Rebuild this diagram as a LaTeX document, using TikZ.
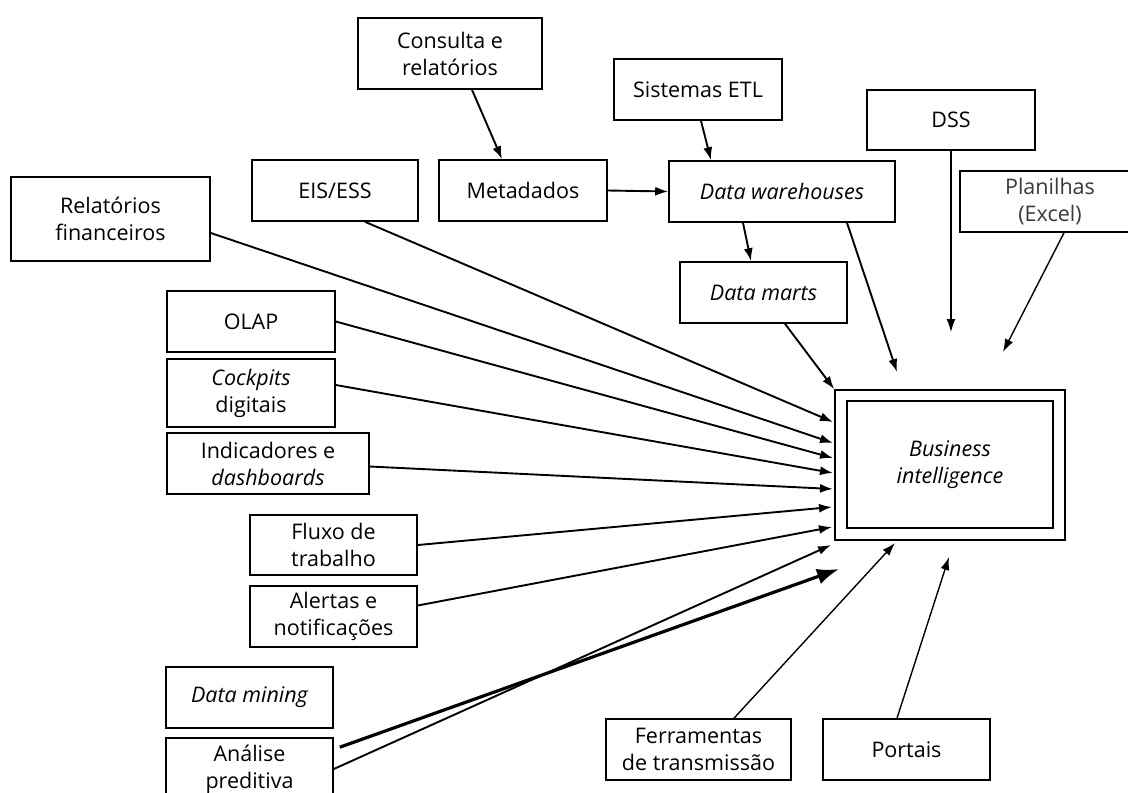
\documentclass[tikz,border=0pt]{standalone}
\usepackage{fontspec}
\setmainfont{Open Sans}
\usetikzlibrary{arrows.meta}
\definecolor{plangray}{rgb}{0.22,0.22,0.25}
\begin{document}
\begin{tikzpicture}[x=1pt,y=-1pt,
  box/.style={draw, line width=1.6pt, align=center, inner sep=0pt,
    font=\fontsize{21.5}{27}\selectfont},
  conn/.style={line width=1.9pt, -{Latex[length=13pt,width=9pt]}},
  thinconn/.style={line width=1.4pt, -{Latex[length=13pt,width=9pt]}},
  bigconn/.style={line width=3.2pt, -{Latex[length=22pt,width=16pt]}}]
\useasboundingbox (0,0) rectangle (1128,793);
% top boxes
\node[box, minimum width=184pt, minimum height=71pt] (cons) at (450,53.5) {Consulta e\\relatórios};
\node[box, minimum width=168pt, minimum height=61pt] (etl) at (698,89.5) {Sistemas ETL};
\node[box, minimum width=168pt, minimum height=60pt] (dss) at (951,120) {DSS};
\node[box, minimum width=180pt, minimum height=61pt, text=plangray] (plan) at (1050,201.5) {Planilhas\\(Excel)};
\node[box, minimum width=166pt, minimum height=61pt] (eis) at (335,190.5) {EIS/ESS};
\node[box, minimum width=168pt, minimum height=61pt] (meta) at (523,190.5) {Metadados};
\node[box, minimum width=226pt, minimum height=61pt] (dw) at (782,191.5) {\itshape Data warehouses};
\node[box, minimum width=199pt, minimum height=84pt] (relfin) at (110.5,219) {Relatórios\\financeiros};
\node[box, minimum width=167pt, minimum height=61pt] (dm) at (763.5,292.5) {\itshape Data marts};
% left column
\node[box, minimum width=168pt, minimum height=61pt] (olap) at (251,321.5) {OLAP};
\node[box, minimum width=168pt, minimum height=68pt] (cock) at (251,393) {\itshape Cockpits\\digitais};
\node[box, minimum width=202pt, minimum height=61pt] (ind) at (268,463.5) {Indicadores e\\\itshape dashboards};
\node[box, minimum width=167pt, minimum height=60pt] (flux) at (333.5,545) {Fluxo de\\trabalho};
\node[box, minimum width=167pt, minimum height=61pt] (alert) at (333.5,616.5) {Alertas e\\notificações};
\node[box, minimum width=167pt, minimum height=61pt] (dmin) at (249.5,697.5) {\itshape Data mining};
\node[box, minimum width=167pt, minimum height=62pt] (anal) at (249.5,769) {Análise\\preditiva};
% bottom
\node[box, minimum width=185pt, minimum height=61pt] (ferr) at (698.5,749.5) {Ferramentas\\de transmissão};
\node[box, minimum width=167pt, minimum height=61pt] (port) at (906.5,749.5) {Portais};
% business intelligence
\node[box, minimum width=230pt, minimum height=150pt] (bi) at (950,465) {};
\node[box, minimum width=206pt, minimum height=127pt] (biin) at (950,464.5) {\itshape Business\\\itshape intelligence};
% arrow end points
\coordinate (t1) at (833,422);
\coordinate (t2) at (833,443);
\coordinate (t3) at (833,458);
\coordinate (t4) at (833,473);
\coordinate (t5) at (833,489);
\coordinate (t6) at (832,507);
\coordinate (t7) at (832,527);
\coordinate (t8) at (831,545);
\coordinate (t9) at (839,569);
\coordinate (t10) at (897,372);
\coordinate (t11) at (951,332);
\coordinate (t12) at (1003,352);
\coordinate (t13) at (895,543);
\coordinate (t14) at (949,557);
% connectors
\draw[conn] ([xshift=22pt]cons.south) -- ([xshift=-21pt]meta.north);
\draw[conn] ([xshift=3pt]etl.south) -- ([xshift=-71pt]dw.north);
\draw[conn] (meta.east) -- (dw.west);
\draw[conn] ([xshift=-39pt]dw.south) -- ([xshift=-12.5pt]dm.north);
\draw[conn] ([xshift=65pt]dw.south) -- (t10);
\draw[thinconn] (dss.south) -- (t11);
\draw[thinconn] ([xshift=14pt]plan.south) -- (t12);
\draw[conn] ([xshift=21.5pt]dm.south) -- (bi.north west);
\draw[conn] ([xshift=30pt]eis.south) -- (t1);
\draw[conn] ([yshift=-14pt]relfin.east) -- (t2);
\draw[conn] (olap.east) -- (t3);
\draw[conn] ([yshift=8pt]cock.east) -- (t4);
\draw[conn] ([yshift=-3pt]ind.east) -- (t5);
\draw[conn] (flux.east) -- (t6);
\draw[conn] ([yshift=11pt]alert.east) -- (t7);
\draw[conn] (anal.east) -- (t8);
\draw[bigconn] ([xshift=6pt,yshift=-10pt]anal.north east) -- (t9);
\draw[thinconn] ([xshift=35.5pt]ferr.north) -- (t13);
\draw[thinconn] ([xshift=-9.5pt]port.north) -- (t14);
\end{tikzpicture}
\end{document}
